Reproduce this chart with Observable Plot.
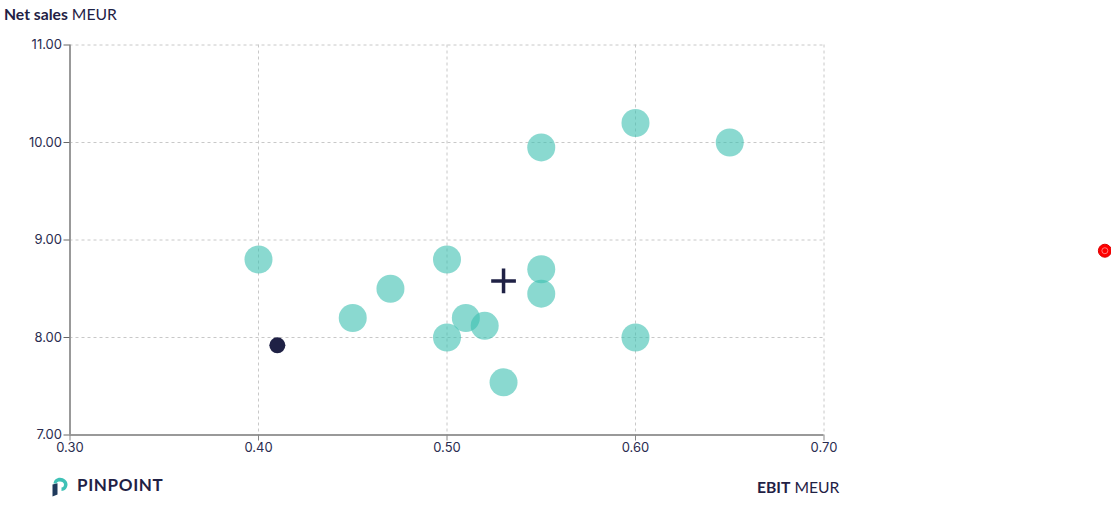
<!DOCTYPE html>
<html><head><meta charset="utf-8">
<script src="https://cdn.jsdelivr.net/npm/d3@7"></script>
<script src="https://cdn.jsdelivr.net/npm/@observablehq/plot@0.6"></script>
<style>
html,body{margin:0;padding:0;background:#fff;overflow:hidden}
#wrap{position:relative;width:1111px;height:514px;font-family:Lato,sans-serif;color:#1f2145}
#wrap svg.chart{position:absolute;left:0;top:0}
#wrap svg.chart g{font-variant:proportional-nums !important}
.lab{position:absolute;font-size:15.7px;line-height:20px;white-space:nowrap}
.lab b{font-weight:700}
#logo{position:absolute;left:52px;top:477px;width:16px;height:20px}
#brand{position:absolute;left:77px;top:475px;font:700 17px/20px Lato,sans-serif;letter-spacing:.65px}
</style></head><body>
<div id="wrap">
<div class="lab" style="left:4px;top:4px"><b>Net sales</b> MEUR</div>
<div class="lab" style="left:757px;top:477px"><b>EBIT</b> MEUR</div>
<svg id="logo" viewBox="0 0 16 20"><path d="M1.500 6.500C2 3 4.500 .8 8 .8c4 0 7.500 3 7.500 6.700S12.500 14 9.500 14V10.500c1.500 0 2.500-1.300 2.500-3S10 4.500 8 4.500 5 5 4.500 6.500z" fill="#3fc1b6"/><path d="M.5 7.500 5.500 6.200V17.500L.5 19.500z" fill="#1f3a5c"/></svg>
<div id="brand">PINPOINT</div>
</div>
<script>
const ebit = [0.40,0.45,0.47,0.50,0.50,0.51,0.52,0.53,0.55,0.55,0.55,0.60,0.60,0.65];
const netSales = [8.80,8.20,8.50,8.80,8.00,8.20,8.12,7.54,9.95,8.70,8.45,10.20,8.00,10.00];
const selected = [{x:0.41,y:7.92}];
const median = [{x:0.53,y:8.58}];
const outlier = [{x:0.849,y:8.89}];
const xTicks = [0.30,0.40,0.50,0.60,0.70];
const yTicks = [7,8,9,10,11];
const peers = ebit.map((x,i)=>({x,y:netSales[i]}));

const chart = Plot.plot({
  width:1111,height:514,
  marginLeft:69.5,marginRight:287.5,marginTop:44.5,marginBottom:79.5,
  style:{background:"transparent",fontFamily:"Inter, sans-serif"},
  x:{domain:[0.3,0.7]},
  y:{domain:[7,11]},
  marks:[
    Plot.gridX(xTicks.slice(1),{stroke:"#c8c8c8",strokeOpacity:1,strokeDasharray:"3,3"}),
    Plot.gridY(yTicks.slice(1),{stroke:"#c8c8c8",strokeOpacity:1,strokeDasharray:"3,3"}),
    Plot.ruleX([0.3],{stroke:"#999",strokeWidth:2}),
    Plot.ruleY([7],{stroke:"#999",strokeWidth:2}),
    Plot.axisX({ticks:xTicks,tickSize:6,tickPadding:2,tickFormat:d3.format(".2f"),label:null,stroke:"#888",fill:"#2a2c50",fontSize:13}),
    Plot.axisY({ticks:yTicks,tickSize:6,tickPadding:2,tickFormat:d3.format(".2f"),label:null,stroke:"#666",fill:"#2a2c50",fontSize:13}),
    Plot.dot(peers,{x:"x",y:"y",r:14,fill:"#3cbfb1",fillOpacity:0.6}),
    Plot.dot(selected,{x:"x",y:"y",r:8,fill:"#1f2145"}),
    Plot.dot(median,{x:"x",y:"y",symbol:"plus",r:8,stroke:"#1f2145",strokeWidth:3.5}),
    Plot.dot(outlier,{x:"x",y:"y",r:6.500,fill:"#f00",stroke:"#d00",strokeWidth:1}),
    Plot.dot(outlier,{x:"x",y:"y",r:3,fill:"none",stroke:"#f99",strokeWidth:0.8})
  ]
});
chart.setAttribute("class",(chart.getAttribute("class")||"")+" chart");
document.getElementById("wrap").appendChild(chart);
</script>
</body></html>
